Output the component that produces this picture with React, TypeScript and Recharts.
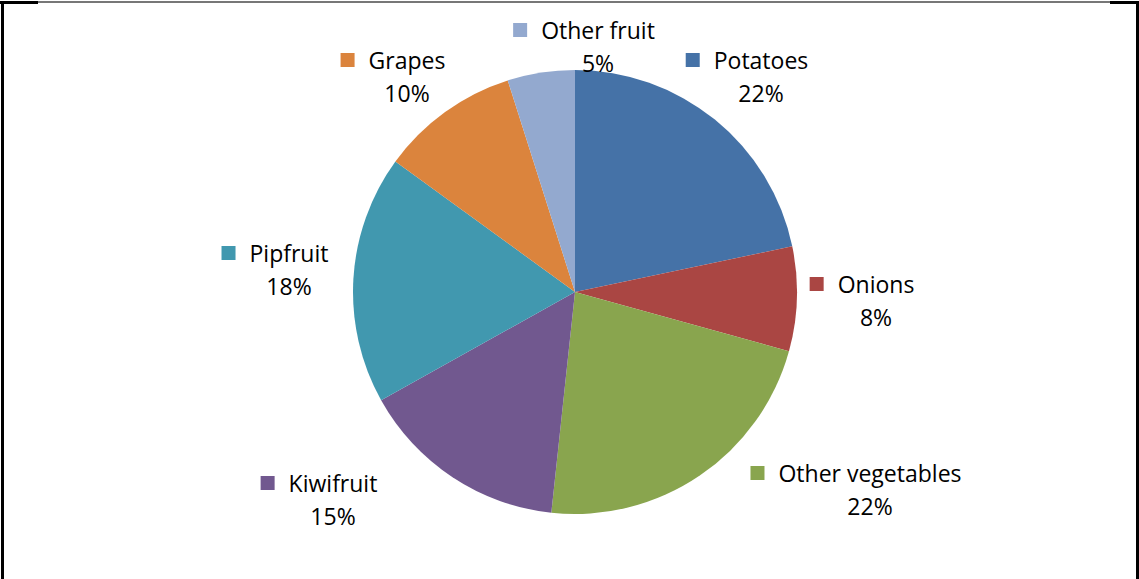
import React from "react";
import { PieChart, Pie, Cell } from "recharts";

const categories = ["Potatoes", "Onions", "Other vegetables", "Kiwifruit", "Pipfruit", "Grapes", "Other fruit"];
const shares = [21.7, 7.6, 22.4, 15.2, 18.1, 10.1, 4.9];
const colors = ["#4572A7", "#AA4643", "#89A54E", "#71588F", "#4198AF", "#DB843D", "#93A9CF"];

// label placement (name-centre x offset, name-baseline y offset) relative to the pie centre
const labelLayout = [
  { dx: 186, dy: -223 },
  { dx: 301, dy: 1 },
  { dx: 295, dy: 190 },
  { dx: -242, dy: 200 },
  { dx: -286, dy: -30 },
  { dx: -168, dy: -223 },
  { dx: 23, dy: -253 },
];

const data = categories.map((name, i) => ({ name, value: shares[i] }));

const FONT = "'Open Sans', 'Noto Sans', sans-serif";
const FS = 23;

const renderLabel = (props: any) => {
  const { cx, cy, index, percent, name } = props;
  const L = labelLayout[index];
  const x = cx + L.dx;
  const y = cy + L.dy;
  const nameWidth = name.length * 0; // placeholder, measured by textAnchor middle
  return (
    <g key={`lbl-${index}`}>
      <text x={x} y={y} textAnchor="middle" fontFamily={FONT} fontSize={FS} fill="#000">
        {name}
      </text>
      <NameMarker x={x} y={y} name={name} color={colors[index]} />
      <text x={x} y={y + 33} textAnchor="middle" fontFamily={FONT} fontSize={FS} fill="#000">
        {`${Math.round(percent * 100)}%`}
      </text>
    </g>
  );
};

const measure = (() => {
  let ctx: CanvasRenderingContext2D | null = null;
  return (s: string) => {
    if (!ctx) {
      const c = document.createElement("canvas");
      ctx = c.getContext("2d");
    }
    if (!ctx) return s.length * FS * 0.5;
    ctx.font = `${FS}px 'Open Sans'`;
    return ctx.measureText(s).width;
  };
})();

const NameMarker = ({ x, y, name, color }: any) => {
  const w = measure(name);
  const left = x - w / 2;
  return <rect x={left - 28} y={y - 16} width={14} height={14} fill={color} />;
};

export default function App() {
  return (
    <div style={{ position: "fixed", left: 0, top: 0, width: 1139, height: 579, background: "#fff" }}>
      <PieChart width={1139} height={579} margin={{ top: 0, right: 0, bottom: 0, left: 0 }}>
        <Pie
          data={data}
          dataKey="value"
          nameKey="name"
          cx={575}
          cy={292}
          outerRadius={222}
          startAngle={90}
          endAngle={-270}
          stroke="none"
          labelLine={false}
          label={renderLabel}
          isAnimationActive={false}
        >
          {data.map((d, i) => (
            <Cell key={d.name} fill={colors[i]} />
          ))}
        </Pie>
      </PieChart>
      <div style={{ position: "absolute", left: 0, top: 1, width: 1139, height: 2, background: "#777" }} />
      <div style={{ position: "absolute", left: 0, top: 1, width: 38, height: 3, background: "#000" }} />
      <div style={{ position: "absolute", left: 1110, top: 1, width: 29, height: 3, background: "#000" }} />
      <div style={{ position: "absolute", left: 1, top: 1, width: 3, height: 578, background: "#000" }} />
      <div style={{ position: "absolute", left: 1136, top: 1, width: 3, height: 578, background: "#000" }} />
    </div>
  );
}
